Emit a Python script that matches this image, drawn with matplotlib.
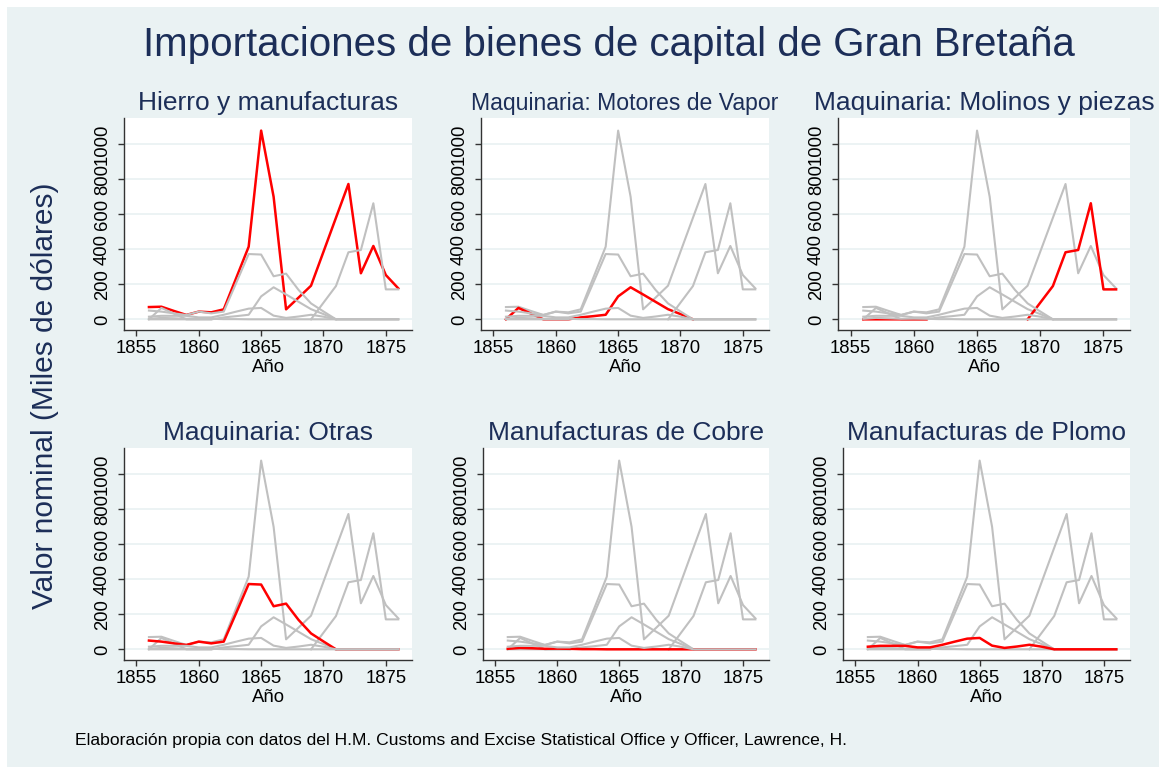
import matplotlib
matplotlib.use("Agg")
import matplotlib.pyplot as plt
import numpy as np
from matplotlib.patches import Rectangle

plt.rcParams['font.family'] = ['Liberation Sans', 'DejaVu Sans']

nan = np.nan
years = list(range(1856, 1877))

# valores en miles de dolares
hierro = [70, 72, 48, 25, 44, 40, 57, 236, 415, 1078, 700, 57, 124, 192, 386, 580, 773, 263, 419, 253, 177]
motores = [0, 65, 33, 0, 0, 0, 11, 18, 26, 131, 183, 142, 100, 58, 30, 0, nan, nan, nan, nan, nan]
molinos = [0, 0, 0, 0, 0, 0, nan, nan, nan, nan, nan, nan, nan, 0, 95, 190, 383, 396, 663, 171, 171]
otras = [50, 44, 34, 25, 44, 34, 44, 208, 373, 370, 246, 261, 168, 91, 45, 0, 0, 0, 0, 0, 0]
cobre = [3, 8, 6, 3, 4, 3, 1, 1, 0, 0, 0, 0, 0, 0, 0, 0, 0, 0, 0, 0, 0]
plomo = [15, 20, 20, 20, 11, 11, 26, 44, 61, 65, 21, 8, 16, 26, 15, 0, 0, 0, 0, 0, 0]

series = [hierro, motores, molinos, otras, cobre, plomo]
titles = ["Hierro y manufacturas", "Maquinaria: Motores de Vapor",
          "Maquinaria: Molinos y piezas", "Maquinaria: Otras",
          "Manufacturas de Cobre", "Manufacturas de Plomo"]
title_sizes = [19, 16.6, 19, 19, 19, 19]

W, H = 1159, 767
bg = "#EAF2F3"
navy = "#1c2e58"

fig = plt.figure(figsize=(W / 100, H / 100), dpi=100, facecolor="white")
fig.patches.append(Rectangle((7 / W, 0), 1 - 7 / W, 1 - 7 / H, transform=fig.transFigure,
                             facecolor=bg, edgecolor="none", zorder=-10))

# pixel boxes: left, right, top, bottom
boxes = [(124, 412, 118, 330), (481, 769, 118, 330), (838, 1130, 118, 330),
         (124, 412, 448, 660), (483, 769, 448, 660), (843, 1130, 448, 660)]

for k, (l, r, t, b) in enumerate(boxes):
    ax = fig.add_axes([l / W, 1 - b / H, (r - l) / W, (b - t) / H])
    ax.set_facecolor("white")
    for j, s in enumerate(series):
        if j == k:
            ax.plot(years, s, color="#ff0000", lw=1.8)
        else:
            ax.plot(years, s, color="#c0c0c0", lw=1.5)
    ax.set_xlim(1854, 1877.1)
    ax.set_ylim(-61, 1150)
    ax.set_xticks([1855, 1860, 1865, 1870, 1875])
    ax.set_yticks([0, 200, 400, 600, 800, 1000])
    ax.grid(axis='y', color=bg, lw=1.3)
    ax.set_axisbelow(True)
    for sp in ['top', 'right']:
        ax.spines[sp].set_visible(False)
    for sp in ['left', 'bottom']:
        ax.spines[sp].set_color("#333333")
        ax.spines[sp].set_linewidth(1.0)
    ax.tick_params(axis='both', length=4.5, width=1, color="#333333", labelsize=13.3)
    ax.tick_params(axis='x', pad=3)
    ax.tick_params(axis='y', pad=5)
    plt.setp(ax.get_yticklabels(), rotation=90, va='center')
    ax.set_xlabel("Año", fontsize=13.3, labelpad=1)
    ax.set_title(titles[k], fontsize=title_sizes[k], color=navy, pad=6)

fig.text(609 / W, 1 - 45 / H, "Importaciones de bienes de capital de Gran Bretaña",
         fontsize=29, color=navy, ha='center', va='center')
fig.text(45 / W, 1 - 396 / H, "Valor nominal (Miles de dólares)",
         fontsize=21.5, color=navy, rotation=90, ha='center', va='center')
fig.text(75 / W, 1 - 741 / H,
         "Elaboración propia con datos del H.M. Customs and Excise Statistical Office y Officer, Lawrence, H.",
         fontsize=12.6, color="black", ha='left', va='center')

fig.savefig("out.png", dpi=100, facecolor=fig.get_facecolor())
